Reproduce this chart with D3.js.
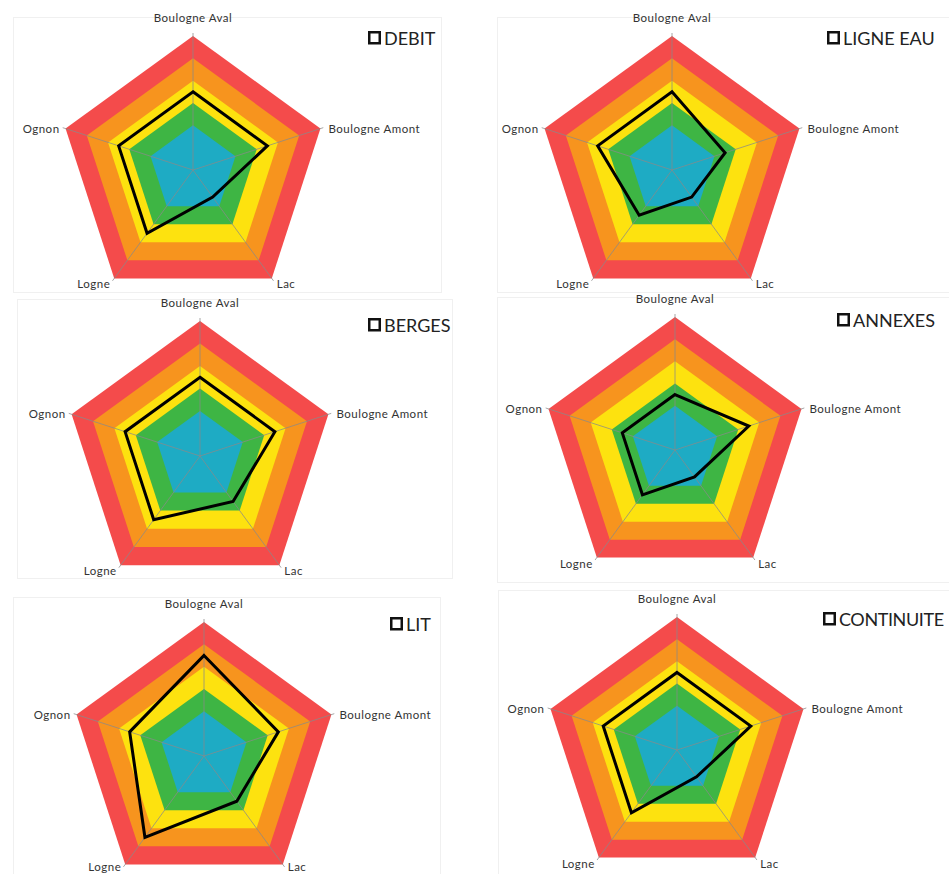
<!DOCTYPE html>
<html lang="fr">
<head>
    <meta charset="UTF-8">
    <title>Radars - qualité des milieux</title>
    <script src="https://d3js.org/d3.v7.min.js"></script>
    <style>
        body { margin: 0; padding: 0; background: #fff; }
        svg { display: block; }
        .axis-label { font-family: Lato, "Open Sans", sans-serif; font-size: 11.5px; fill: #333; letter-spacing: 0.5px; }
        .legend-label { font-family: Lato, "Open Sans", sans-serif; font-size: 18px; fill: #222; }
    </style>
</head>
<body>

<script>

    // categories (axes of each radar, clockwise from top)
    const axes = ["Boulogne Aval", "Boulogne Amont", "Lac", "Logne", "Ognon"];

    // one series per chart
    const titles = ["DEBIT", "LIGNE EAU", "BERGES", "ANNEXES", "LIT", "CONTINUITE"];
    const debit      = [3.5, 3.5, 1.5, 3.5, 3.5];
    const ligneEau   = [3.5, 2.5, 1.5, 2.5, 3.5];
    const berges     = [3.5, 3.5, 2.5, 3.5, 3.5];
    const annexes    = [2.5, 3.5, 1.5, 2.5, 2.5];
    const lit        = [4.5, 3.5, 2.5, 4.5, 3.5];
    const continuite = [3.5, 3.5, 1.5, 3.5, 3.5];
    const series = [debit, ligneEau, berges, annexes, lit, continuite];

    // background classes (outer limit of each band)
    const bandLimits = [6, 5, 4, 3, 2];
    const bandColors = ["#f44b4b", "#f7941e", "#fde20f", "#3eb544", "#1eabc4"];

    // panel layout (where each radar sits in the page)
    const layout = [
        { cx: 193, cy: 170, r: 134, legX: 368, legY: 31, box: [13, 17, 441, 292] },
        { cx: 672, cy: 170, r: 134, legX: 827, legY: 31, box: [497, 17, 949, 292] },
        { cx: 200, cy: 456, r: 135, legX: 368, legY: 318, box: [17, 299, 452, 578] },
        { cx: 675, cy: 450, r: 133, legX: 837, legY: 313, box: [497, 297, 949, 582] },
        { cx: 204, cy: 756, r: 134, legX: 390, legY: 617, box: [13, 597, 440, 874] },
        { cx: 677, cy: 750, r: 133, legX: 823, legY: 612, box: [498, 590, 949, 874] }
    ];

    const W = 949, H = 874;
    const svg = d3.select("body").append("svg")
        .attr("width", W)
        .attr("height", H);

    const angle = d3.scalePoint()
        .domain(axes)
        .range([0, 2 * Math.PI * (axes.length - 1) / axes.length]);

    series.forEach((values, i) => {
        const L = layout[i];
        const r = d3.scaleLinear().domain([0, 6]).range([0, L.r]);

        // faint chart-area frame
        svg.append("rect")
            .attr("x", L.box[0] + 0.5).attr("y", L.box[1] + 0.5)
            .attr("width", L.box[2] - L.box[0]).attr("height", L.box[3] - L.box[1])
            .attr("fill", "none").attr("stroke", "#f0f0f0");

        const g = svg.append("g").attr("transform", `translate(${L.cx},${L.cy})`);

        const radial = d3.lineRadial()
            .angle(d => angle(d.axis))
            .radius(d => r(d.value))
            .curve(d3.curveLinearClosed);

        // coloured bands, largest first
        bandLimits.forEach((lim, k) => {
            g.append("path")
                .attr("d", radial(axes.map(a => ({ axis: a, value: lim }))))
                .attr("fill", bandColors[k]);
        });

        // spokes
        axes.forEach(a => {
            const t = angle(a);
            const end = r(6) + 3;
            g.append("line")
                .attr("x1", 0).attr("y1", 0)
                .attr("x2", end * Math.sin(t)).attr("y2", -end * Math.cos(t))
                .attr("stroke", "#8a8a8a").attr("stroke-opacity", 0.75)
                .attr("stroke-width", 1);
        });

        // series line
        g.append("path")
            .attr("d", radial(axes.map((a, j) => ({ axis: a, value: values[j] }))))
            .attr("fill", "none")
            .attr("stroke", "#000")
            .attr("stroke-width", 3)
            .attr("stroke-linejoin", "miter");

        // axis labels (bottom ones pulled up a little when the page edge is close)
        const bottomRoom = H - (L.cy + r(6) * Math.cos(Math.PI / 5));
        const lowDy = bottomRoom < 16 ? 7 : 10;
        axes.forEach((a, j) => {
            const t = angle(a);
            const vx = r(6) * Math.sin(t), vy = -r(6) * Math.cos(t);
            let dx = 0, dy = 0, anchor = "middle";
            if (j === 0) { dy = -14; }
            else if (j === 1) { dx = 8; dy = 4; anchor = "start"; }
            else if (j === 2) { dx = 5; dy = lowDy; anchor = "start"; }
            else if (j === 3) { dx = -4; dy = lowDy; anchor = "end"; }
            else { dx = -6; dy = 4; anchor = "end"; }
            g.append("text")
                .attr("class", "axis-label")
                .attr("x", vx + dx).attr("y", vy + dy)
                .attr("text-anchor", anchor)
                .text(a);
        });

        // legend
        svg.append("rect")
            .attr("x", L.legX + 1.25).attr("y", L.legY + 1.25)
            .attr("width", 10.5).attr("height", 11)
            .attr("fill", "#fff").attr("stroke", "#111").attr("stroke-width", 2.5);
        svg.append("text")
            .attr("class", "legend-label")
            .attr("x", L.legX + 16).attr("y", L.legY + 13.5)
            .attr("letter-spacing", titles[i].length > 9 ? -0.4 : 0)
            .text(titles[i]);
    });

</script>

</body>
</html>
